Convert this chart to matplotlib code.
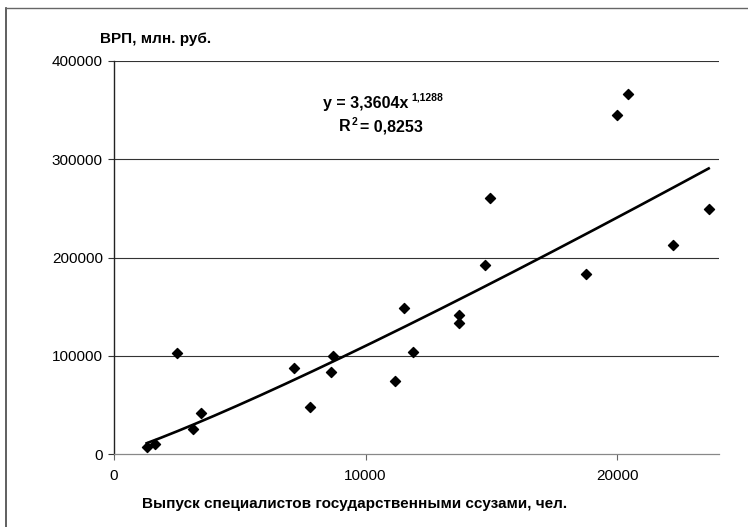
import matplotlib.pyplot as plt
import numpy as np
from matplotlib.lines import Line2D

plt.rcParams['font.family'] = ['Liberation Sans', 'DejaVu Sans']

# выпуск специалистов, чел. / ВРП, млн. руб.
graduates = [1300, 1630, 2520, 3150, 3450, 7160, 7790, 8630, 8720, 11170, 11530,
             11900, 13730, 13730, 14750, 14950, 18780, 19990, 20440, 22230, 23640]
grp = [7500, 9800, 102500, 25400, 41400, 87200, 48200, 83100, 100100, 74600, 148300,
       104100, 141500, 133000, 192400, 260200, 183200, 345000, 366400, 212700, 249400]

coef_a = 3.3604
coef_b = 1.1288
eq_text = 'y = 3,3604x'
exp_text = '1,1288'
r2_text = '= 0,8253'

x_ticks = [0, 10000, 20000]
y_ticks = [0, 100000, 200000, 300000, 400000]

W, H = 748, 527


def px(x, y):
    # pixel position (from top-left) -> figure fraction
    return x / W, 1 - y / H


fig = plt.figure(figsize=(W / 100, H / 100), dpi=100)
ax = fig.add_axes([114 / W, 73 / H, 605 / W, 393 / H])

ax.set_xlim(0, 24050)
ax.set_ylim(0, 400000)
ax.set_xticks(x_ticks)
ax.set_yticks(y_ticks)
ax.set_xticklabels([str(t) for t in x_ticks], fontsize=11)
ax.set_yticklabels([str(t) for t in y_ticks], fontsize=11)
ax.tick_params(axis='x', direction='out', length=4, width=0.8, color='#666666', pad=7)
ax.tick_params(axis='y', direction='out', length=4, width=0.8, color='#333333', pad=4)

for y in y_ticks[1:]:
    ax.axhline(y, color='#333333', linewidth=0.8, zorder=1)

for s in ['top', 'right']:
    ax.spines[s].set_visible(False)
ax.spines['left'].set_color('#222222')
ax.spines['left'].set_linewidth(1.0)
ax.spines['bottom'].set_color('#888888')
ax.spines['bottom'].set_linewidth(0.9)

# power trend line
xs = np.linspace(min(graduates), max(graduates), 200)
ax.plot(xs, coef_a * xs ** coef_b, color='black', linewidth=1.9, zorder=2)

ax.scatter(graduates, grp, marker='D', s=26, color='black', zorder=3)

# equation label
fig.text(*px(323, 108), eq_text, fontsize=11.5, fontweight='bold', va='baseline')
fig.text(*px(411, 100), exp_text, fontsize=7.5, fontweight='bold', va='baseline')
fig.text(*px(339, 131), 'R', fontsize=11.5, fontweight='bold', va='baseline')
fig.text(*px(352, 125), '2', fontsize=7.5, fontweight='bold', va='baseline')
fig.text(*px(360, 131), r2_text, fontsize=11.5, fontweight='bold', va='baseline')

fig.text(*px(100, 43), 'ВРП, млн. руб.', fontsize=11, fontweight='bold', va='baseline')
fig.text(*px(355, 508), 'Выпуск специалистов государственными ссузами, чел.',
         fontsize=11, fontweight='bold', ha='center', va='baseline')

# outer chart border
fig.add_artist(Line2D([6 / W, 6 / W], [0, 1 - 8 / H], color='#444444', linewidth=1.2))
fig.add_artist(Line2D([6 / W, 1], [1 - 8 / H, 1 - 8 / H], color='#666666', linewidth=1.0))

fig.savefig('out.png', dpi=100)
